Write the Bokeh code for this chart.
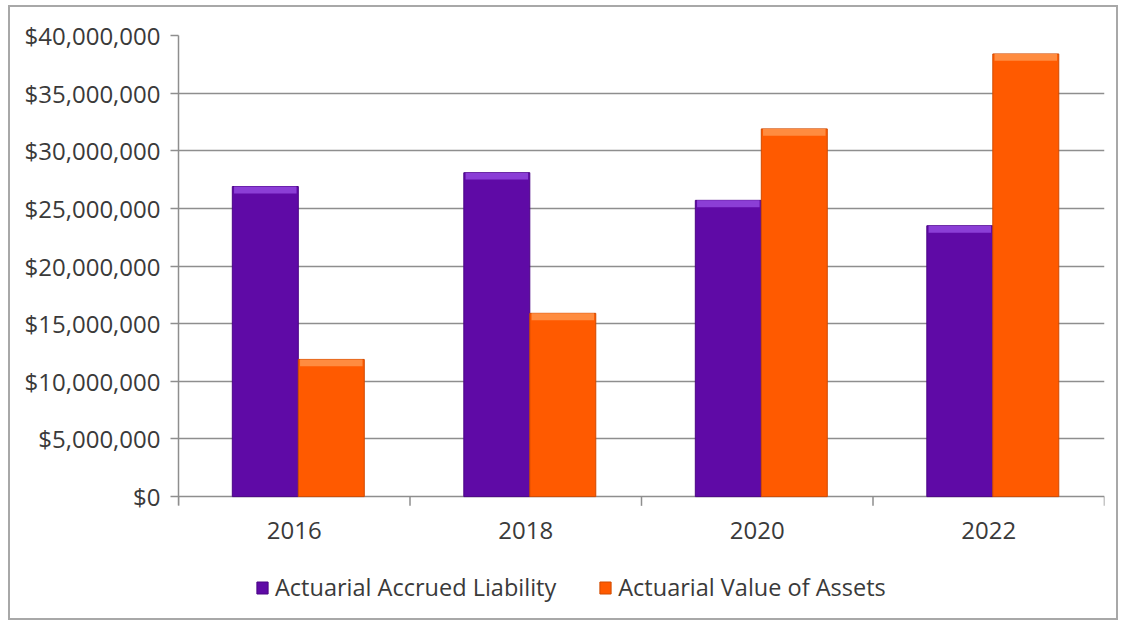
from bokeh.plotting import figure
from bokeh.models import (FixedTicker, NumeralTickFormatter, Range1d, Legend, LegendItem,
                          ColumnDataSource)
from bokeh.core.properties import value
from bokeh.embed import file_html
from bokeh.resources import INLINE

years = ["2016", "2018", "2020", "2022"]
liability = [26_900_000, 28_100_000, 25_700_000, 23_500_000]
assets = [11_900_000, 15_900_000, 31_900_000, 38_400_000]
y_ticks = [0, 5_000_000, 10_000_000, 15_000_000, 20_000_000, 25_000_000,
           30_000_000, 35_000_000, 40_000_000]

PURPLE = "#5F0AA6"
PURPLE_HI = "#8B3ED6"
ORANGE = "#FF5A00"
ORANGE_HI = "#FF8C40"
GRID = "#8E8E8E"
TEXT = "#3A3A3A"
FONT = "Open Sans"
FS = "24px"

idx = list(range(len(years)))
bevel = 600_000
src = ColumnDataSource(dict(
    x1=[i + 0.375 for i in idx],
    x2=[i + 0.66 for i in idx],
    liab=liability,
    assets=assets,
    liab_b=[v - bevel for v in liability],
    assets_b=[v - bevel for v in assets],
))

p = figure(width=1110, height=615, output_backend="svg", toolbar_location=None,
           x_range=Range1d(0, len(years)), y_range=Range1d(-10_400_000, 40_000_000),
           min_border_left=168, min_border_right=16, min_border_top=28,
           min_border_bottom=6, margin=(5, 0, 0, 8),
           styles={"border": "2px solid #A8A8A8", "box-sizing": "border-box"})
p.outline_line_color = None
p.background_fill_color = "white"
p.border_fill_color = "white"
p.xaxis.visible = False
p.xgrid.grid_line_color = None

r1 = p.vbar(x="x1", top="liab", width=0.285, source=src, fill_color=PURPLE,
            line_color="#4A0485", line_width=1)
p.vbar(x="x1", top="liab", bottom="liab_b", width=0.27, source=src,
       fill_color=PURPLE_HI, line_color=None)
r2 = p.vbar(x="x2", top="assets", width=0.285, source=src, fill_color=ORANGE,
            line_color="#D04A00", line_width=1)
p.vbar(x="x2", top="assets", bottom="assets_b", width=0.27, source=src,
       fill_color=ORANGE_HI, line_color=None)

# y axis
p.yaxis.ticker = FixedTicker(ticks=y_ticks)
p.yaxis.bounds = (-800_000, 40_000_000)
p.yaxis.formatter = NumeralTickFormatter(format="$0,0")
p.yaxis.major_label_text_font = FONT
p.yaxis.major_label_text_font_size = FS
p.yaxis.major_label_text_color = TEXT
p.yaxis.major_tick_out = 8
p.yaxis.major_tick_in = 0
p.yaxis.minor_tick_line_color = None
p.yaxis.axis_line_color = GRID
p.yaxis.axis_line_width = 1.5
p.yaxis.major_tick_line_color = GRID
p.yaxis.major_tick_line_width = 1.5
p.yaxis.major_label_standoff = 10

p.ygrid.ticker = FixedTicker(ticks=y_ticks)
p.ygrid.grid_line_color = GRID
p.ygrid.grid_line_width = 1.5

# category dividers below the baseline and category labels
bounds = list(range(len(years) + 1))
p.segment(x0=bounds, x1=bounds, y0=[0] * len(bounds), y1=[-800_000] * len(bounds),
          line_color=GRID, line_width=1.5)
p.text(x=[i + 0.5 for i in idx], y=[0] * len(years), text=years,
       text_font=value(FONT), text_font_size=FS, text_color=TEXT,
       text_align="center", text_baseline="middle", y_offset=34)

legend = Legend(items=[LegendItem(label="Actuarial Accrued Liability", renderers=[r1]),
                       LegendItem(label="Actuarial Value of Assets", renderers=[r2])],
                orientation="horizontal", location=(77, 13),
                label_text_font=FONT, label_text_font_size="23.5px",
                label_text_color=TEXT, glyph_width=14, glyph_height=15,
                label_standoff=6, spacing=42, padding=0, margin=0,
                border_line_color=None, background_fill_alpha=0)
p.add_layout(legend, "center")

open("out.html", "w").write(file_html(p, INLINE))
